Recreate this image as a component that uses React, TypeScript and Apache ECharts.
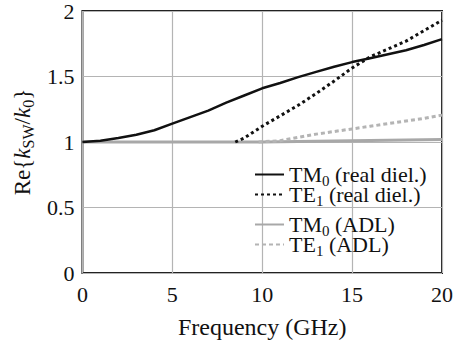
import React, { useEffect, useRef } from "react";
import * as echarts from "echarts";

const xTicks = [0, 5, 10, 15, 20];
const yTicks = [0, 0.5, 1, 1.5, 2];

const tm0RealX = [0, 1, 2, 3, 4, 5, 6, 7, 8, 9, 10, 11, 12, 13, 14, 15, 16, 17, 18, 19, 20];
const tm0RealY = [1.0, 1.01, 1.03, 1.055, 1.09, 1.14, 1.19, 1.24, 1.3, 1.355, 1.41, 1.45, 1.495, 1.535, 1.575, 1.61, 1.64, 1.67, 1.7, 1.74, 1.785];

const te1RealX = [8.5, 9, 10, 11, 12, 13, 14, 15, 16, 17, 18, 19, 20];
const te1RealY = [1.0, 1.03, 1.12, 1.2, 1.28, 1.37, 1.465, 1.565, 1.65, 1.71, 1.77, 1.85, 1.93];

const tm0AdlX = [0, 5, 10, 12, 14, 16, 18, 20];
const tm0AdlY = [1.0, 1.0, 1.0, 1.004, 1.008, 1.012, 1.016, 1.02];

const te1AdlX = [9.8, 11, 12, 13, 14, 15, 16, 17, 18, 19, 20];
const te1AdlY = [1.0, 1.01, 1.035, 1.06, 1.08, 1.1, 1.12, 1.14, 1.16, 1.18, 1.205];

const seriesNames = ["TM0 (real diel.)", "TE1 (real diel.)", "TM0 (ADL)", "TE1 (ADL)"];
const legendTops = [161, 181, 211, 231];

const pairs = (xs: number[], ys: number[]) => xs.map((x, i) => [x, ys[i]]);

const FONT = "Liberation Serif";

export default function App() {
  const ref = useRef<HTMLDivElement>(null);
  useEffect(() => {
    const chart = echarts.init(ref.current!, null, { renderer: "svg" });
    const legendFormatter = (name: string) => {
      const m = name.match(/^(TM|TE)(\d) (.*)$/);
      if (!m) return name;
      return `{r|${m[1]}}{s|${m[2]}}{r| ${m[3]}}`;
    };
    const legendRich = {
      r: { fontFamily: FONT, fontSize: 22, color: "#111", lineHeight: 20 },
      s: { fontFamily: FONT, fontSize: 15, color: "#111", lineHeight: 20, padding: [12, 0, 0, 0] },
    };
    const numRich = { n: { fontFamily: FONT, fontSize: 22, color: "#111" } };
    chart.setOption({
      animation: false,
      textStyle: { fontFamily: FONT },
      grid: {
        left: 76,
        right: 14,
        top: 8,
        bottom: 73,
        show: true,
        borderColor: "#222",
        borderWidth: 2,
        backgroundColor: "transparent",
      },
      xAxis: {
        type: "value",
        min: xTicks[0],
        max: xTicks[xTicks.length - 1],
        interval: 5,
        name: "{n|Frequency (GHz)}",
        nameLocation: "middle",
        nameGap: 42,
        nameTextStyle: { fontFamily: FONT, fontSize: 24, color: "#111", rich: { n: { fontFamily: FONT, fontSize: 24, color: "#111" } } },
        axisLine: { show: false },
        axisTick: { show: false },
        axisLabel: {
          fontFamily: FONT,
          fontSize: 22,
          color: "#111",
          margin: 10,
          formatter: (v: number) => `{n|${v}}`,
          rich: numRich,
        },
        splitLine: { show: true, lineStyle: { color: "#b4b4b4", width: 1.2 } },
      },
      yAxis: {
        type: "value",
        min: yTicks[0],
        max: yTicks[yTicks.length - 1],
        interval: 0.5,
        name: "{r|Re{}{i|k}{s|SW}{r|/}{i|k}{s|0}}",
        nameLocation: "middle",
        nameRotate: 90,
        nameGap: 47,
        nameTextStyle: {
          fontFamily: FONT,
          fontSize: 23,
          color: "#111",
          rich: {
            r: { fontFamily: FONT, fontSize: 23, color: "#111", lineHeight: 24 },
            i: { fontFamily: FONT, fontSize: 23, color: "#111", fontStyle: "italic", lineHeight: 24 },
            s: { fontFamily: FONT, fontSize: 16, color: "#111", lineHeight: 24, padding: [12, 0, 0, 0] },
          },
        },
        axisLine: { show: false },
        axisTick: { show: false },
        axisLabel: {
          fontFamily: FONT,
          fontSize: 22,
          color: "#111",
          margin: 8,
          formatter: (v: number) => `{n|${v}}`,
          rich: numRich,
        },
        splitLine: { show: true, lineStyle: { color: "#b4b4b4", width: 1.2 } },
      },
      legend: seriesNames.map((n, i) => ({
        data: [n],
        orient: "vertical",
        left: 254,
        top: legendTops[i],
        padding: 0,
        itemWidth: 29,
        itemHeight: 14,
        itemGap: 0,
        itemStyle: { opacity: 0 },
        formatter: legendFormatter,
        textStyle: { fontFamily: FONT, fontSize: 22, color: "#111", rich: legendRich },
      })),
      series: [
        {
          name: seriesNames[2],
          type: "line",
          data: pairs(tm0AdlX, tm0AdlY),
          symbol: "none",
          lineStyle: { color: "#a8a8a8", width: 3 },
          itemStyle: { color: "#a8a8a8" },
          z: 2,
        },
        {
          name: seriesNames[3],
          type: "line",
          data: pairs(te1AdlX, te1AdlY),
          symbol: "none",
          lineStyle: { color: "#b4b4b4", width: 3, type: [4, 3] },
          itemStyle: { color: "#b4b4b4" },
          z: 2,
        },
        {
          name: seriesNames[0],
          type: "line",
          data: pairs(tm0RealX, tm0RealY),
          symbol: "none",
          lineStyle: { color: "#111", width: 2.5 },
          itemStyle: { color: "#111" },
          z: 3,
        },
        {
          name: seriesNames[1],
          type: "line",
          data: pairs(te1RealX, te1RealY),
          symbol: "none",
          lineStyle: { color: "#111", width: 3, type: [3, 3] },
          itemStyle: { color: "#111" },
          z: 3,
        },
      ],
    });
    return () => chart.dispose();
  }, []);
  return <div ref={ref} style={{ width: 456, height: 346, position: "absolute", left: 0, top: 0 }} />;
}
